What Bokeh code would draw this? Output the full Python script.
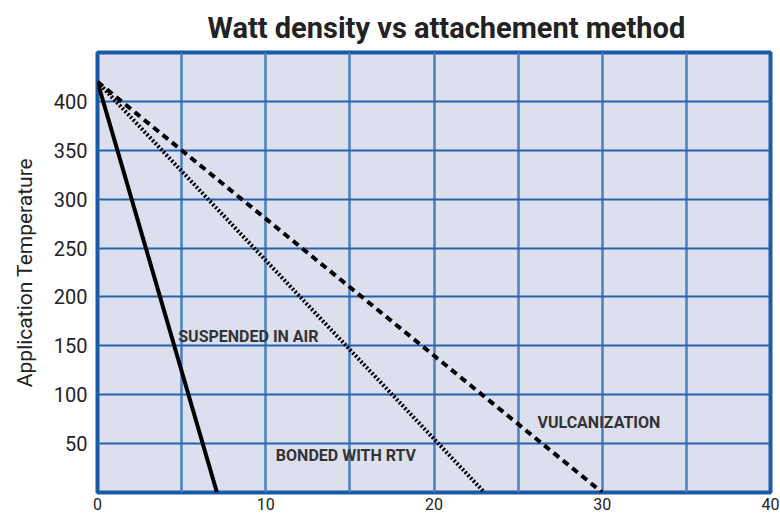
from bokeh.plotting import figure
from bokeh.models import FixedTicker, Label, Title
from bokeh.embed import file_html
from bokeh.resources import INLINE

# Data
suspended_x = [0, 7.1]
suspended_y = [420, 0]
bonded_x = [0, 23]
bonded_y = [420, 0]
vulcan_x = [0, 30]
vulcan_y = [420, 0]

x_ticks = [0, 10, 20, 30, 40]
x_grid = [5, 10, 15, 20, 25, 30, 35]
y_ticks = [50, 100, 150, 200, 250, 300, 350, 400]

label_texts = ["SUSPENDED IN AIR", "BONDED WITH RTV", "VULCANIZATION"]
label_x = [4.8, 10.6, 26.15]
label_y = [160, 38, 72]

p = figure(width=780, height=518, x_range=(0, 40), y_range=(0, 450),
           output_backend="svg", toolbar_location=None,
           min_border_left=97, min_border_right=10, min_border_top=48, min_border_bottom=26)

p.title = Title(text="Watt density vs attachement method", align="left", offset=110,
                text_font="Roboto", text_font_size="29px", text_font_style="bold",
                text_color="#222222", standoff=16)

p.background_fill_color = "#dcdfee"
p.border_fill_color = "white"
p.outline_line_color = "#1a5aa8"
p.outline_line_width = 4

p.xgrid.ticker = FixedTicker(ticks=x_grid)
p.ygrid.ticker = FixedTicker(ticks=y_ticks)
p.xgrid.grid_line_color = "#4a80c2"
p.xgrid.grid_line_width = 2.5
p.ygrid.grid_line_color = "#2462ac"
p.ygrid.grid_line_width = 2

p.xaxis.ticker = FixedTicker(ticks=x_ticks)
p.yaxis.ticker = FixedTicker(ticks=y_ticks)
for ax in (p.xaxis, p.yaxis):
    ax.axis_line_color = None
    ax.major_tick_line_color = None
    ax.minor_tick_line_color = None
    ax.major_tick_out = 0
    ax.major_tick_in = 0
    ax.minor_tick_out = 0
    ax.minor_tick_in = 0
    ax.major_label_text_font = "Roboto"
    ax.major_label_text_color = "#222222"
p.xaxis.major_label_text_font_size = "16px"
p.yaxis.major_label_text_font_size = "20px"
p.xaxis.major_label_standoff = 5
p.yaxis.major_label_standoff = 10
p.yaxis.axis_label = "Application Temperature"
p.yaxis.axis_label_text_font = "Roboto"
p.yaxis.axis_label_text_font_size = "21px"
p.yaxis.axis_label_text_font_style = "normal"
p.yaxis.axis_label_text_color = "#222222"
p.yaxis.axis_label_standoff = 14

p.line(suspended_x, suspended_y, line_color="black", line_width=4)
p.line(bonded_x, bonded_y, line_color="black", line_width=4, line_dash="2 2")
p.line(vulcan_x, vulcan_y, line_color="black", line_width=4, line_dash="7 5")

for t, lx, ly in zip(label_texts, label_x, label_y):
    p.add_layout(Label(x=lx, y=ly, text=t, text_font="Roboto", text_font_size="16px",
                       text_font_style="bold", text_color="#333333",
                       text_baseline="middle", text_align="left"))

open("out.html", "w").write(file_html(p, INLINE))
